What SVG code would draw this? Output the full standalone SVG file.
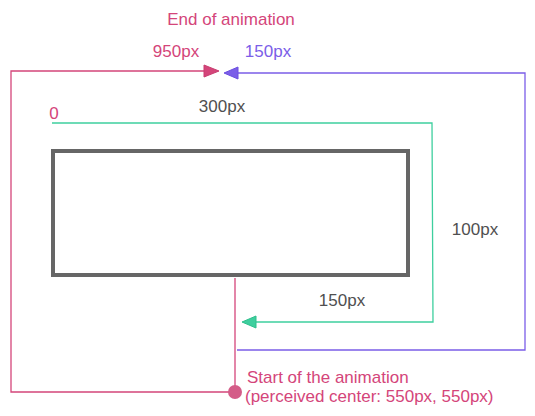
<svg xmlns="http://www.w3.org/2000/svg" width="535" height="416" viewBox="0 0 535 416">
<style>
.pink{stroke:#d4457a;fill:none;stroke-width:1.3}
.violet{stroke:#7b5ee8;fill:none;stroke-width:1.3}
.green{stroke:#3ecf9e;fill:none;stroke-width:1.3}
text{font-family:"Liberation Sans",Arial,sans-serif;font-size:17px}
.tp{fill:#d4457a}
.tv{fill:#7b5ee8}
.tg{fill:#505050}
</style>
<rect width="535" height="416" fill="#ffffff"/>
<g id="connectors">
<polyline class="pink" points="235,392 11,392 11,71 206,71"/>
<polygon points="204,65 219,71 204,77" fill="#d4457a" stroke="#c93d70" stroke-width="1"/>
<polyline class="violet" points="237,350 525,350 525,73 236,73"/>
<polygon points="238,67 224,73 238,79" fill="#7b5ee8" stroke="#6c4fe0" stroke-width="1"/>
<polyline class="green" points="52,123 432,123 433,322 254,322"/>
<polygon points="256,316 242,322 256,328" fill="#3ecf9e" stroke="#2fbf8d" stroke-width="1"/>
<line class="pink" x1="235" y1="278" x2="235" y2="392"/>
</g>
<g id="box">
<rect x="53" y="151" width="355" height="124" fill="none" stroke="#666666" stroke-width="4"/>
</g>
<g id="start">
<circle cx="235" cy="392" r="7" fill="#d45c88"/>
<text class="tp" x="247" y="383">Start of the animation</text>
<text class="tp" x="245" y="402">(perceived center: 550px, 550px)</text>
</g>
<g id="labels">
<text class="tp" x="231" y="25" text-anchor="middle">End of animation</text>
<text class="tp" x="176" y="57" text-anchor="middle">950px</text>
<text class="tv" x="268" y="57" text-anchor="middle">150px</text>
<text class="tp" x="54" y="119" text-anchor="middle">0</text>
<text class="tg" x="222" y="112" text-anchor="middle">300px</text>
<text class="tg" x="475" y="235" text-anchor="middle">100px</text>
<text class="tg" x="342" y="306" text-anchor="middle">150px</text>
</g>
</svg>
